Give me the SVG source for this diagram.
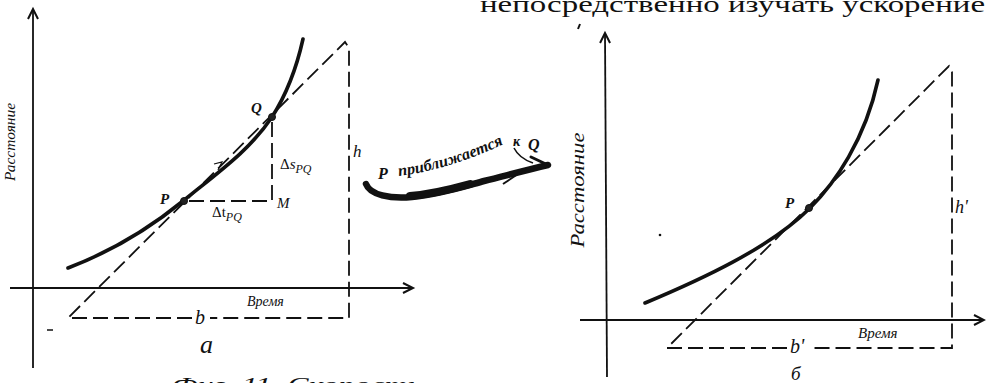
<svg xmlns="http://www.w3.org/2000/svg" width="986" height="383" viewBox="0 0 986 383">
<style>
.ax{stroke:#111;stroke-width:1.8;fill:none}
.cv{stroke:#111;stroke-width:3.6;fill:none;stroke-linecap:round}
.ds{stroke:#111;stroke-width:1.8;fill:none;stroke-dasharray:15 6}
.lb{font-family:"Liberation Serif","Times New Roman",Tinos,serif;font-style:italic;fill:#111}
.rm{font-family:"Liberation Serif","Times New Roman",Tinos,serif;fill:#111}
.pt{fill:#222;stroke:#111;stroke-width:1}
</style>
<defs>
<marker id="ah" markerUnits="userSpaceOnUse" markerWidth="14" markerHeight="12" refX="11" refY="6" orient="auto">
<path d="M1,1 L11,6 L1,11" fill="none" stroke="#111" stroke-width="2"/>
</marker>
</defs>
<rect width="986" height="383" fill="#fff"/>

<text class="rm" x="480" y="12" font-size="23" textLength="505" lengthAdjust="spacingAndGlyphs">непосредственно изучать ускорение</text>
<path d="M580,24 L578,29" stroke="#111" stroke-width="2"/>

<g id="panel-a">
<line class="ax" x1="33" y1="368" x2="33" y2="9" marker-end="url(#ah)"/>
<line class="ax" x1="10" y1="288" x2="413" y2="288" marker-end="url(#ah)"/>
<text class="lb" transform="translate(15,142) rotate(-90)" font-size="14" text-anchor="middle" textLength="78" lengthAdjust="spacingAndGlyphs">Расстояние</text>
<path class="cv" d="M68,268 C110,252 150,228 183,201 C220,171 250,150 272,117 C288,92 297,66 303,39"/>
<path class="ds" d="M192,318 L68,318 L345,42 L349,48 L349,318 L210,318"/>
<path class="ds" d="M272,122 L272,201 L187,201"/>
<path d="M214,164 L222,162 L218,170" stroke="#111" stroke-width="1.2" fill="none"/>
<line x1="47" y1="330" x2="53" y2="330" stroke="#111" stroke-width="1.5"/>
<circle class="pt" cx="184" cy="201" r="3.5"/>
<circle class="pt" cx="272" cy="117" r="3.5"/>
<text class="lb" x="160" y="204" font-size="15" font-weight="bold">P</text>
<text class="lb" x="251" y="113" font-size="15" font-weight="bold">Q</text>
<text class="lb" x="277" y="208" font-size="15">M</text>
<text class="lb" x="353" y="157" font-size="17">h</text>
<text class="rm" x="280" y="169" font-size="15">Δ<tspan class="lb">s</tspan><tspan class="lb" font-size="12" dy="4">PQ</tspan></text>
<text class="rm" x="212" y="217" font-size="15">Δt<tspan class="lb" font-size="12" dy="4">PQ</tspan></text>
<text class="lb" x="247" y="306" font-size="14">Время</text>
<text class="lb" x="195" y="324" font-size="20">b</text>
<text class="lb" x="200" y="353" font-size="26">а</text>
</g>

<g id="arrow">
<path d="M366,184 C370,195 390,199 412,197 C440,194 462,187 484,181 C508,175 527,170 548,165" stroke="#111" stroke-width="6.5" fill="none" stroke-linecap="round"/>
<path d="M410,196 C432,194 452,189 470,184" stroke="#111" stroke-width="8" fill="none" stroke-linecap="round"/>
<path d="M531,157 L548,165" stroke="#111" stroke-width="3" fill="none" stroke-linecap="round"/>
<path d="M503,184 L527,168" stroke="#111" stroke-width="2" fill="none"/>
<path d="M514,148 C518,156 524,160 533,163" stroke="#111" stroke-width="1.6" fill="none"/>
<path id="tp" d="M399,176 C432,172 472,160 510,141" fill="none"/>
<text class="lb" x="378" y="179" font-size="16" font-weight="bold">P</text>
<text class="lb" font-size="16" font-weight="bold"><textPath href="#tp" textLength="110" lengthAdjust="spacingAndGlyphs">приближается</textPath></text>
<text class="lb" x="513" y="146" font-size="14" font-weight="bold">к</text>
<text class="lb" x="528" y="150" font-size="16" font-weight="bold">Q</text>
</g>

<g id="panel-b">
<line class="ax" x1="607" y1="377" x2="605" y2="33" marker-end="url(#ah)"/>
<line class="ax" x1="580" y1="320" x2="984" y2="320" marker-end="url(#ah)"/>
<text class="lb" transform="translate(584,190) rotate(-90)" font-size="18" text-anchor="middle" textLength="115" lengthAdjust="spacingAndGlyphs">Расстояние</text>
<path class="cv" d="M645,303 C700,280 770,248 810,208 C835,183 865,140 878,80"/>
<path class="ds" d="M787,348 L667,348 L949,66 L952,72 L952,348 L810,348"/>
<circle class="pt" cx="809" cy="208" r="3.5"/>
<circle cx="660" cy="235" r="1.3" fill="#111"/>
<text class="lb" x="785" y="208" font-size="15" font-weight="bold">P</text>
<text class="lb" x="955" y="213" font-size="18">h'</text>
<text class="lb" x="858" y="338" font-size="15">Время</text>
<text class="lb" x="790" y="353" font-size="20">b'</text>
<text class="lb" x="791" y="380" font-size="19">б</text>
</g>

<text class="lb" x="172" y="392" font-size="21" textLength="250" lengthAdjust="spacingAndGlyphs">Фиг. 11. Скорость</text>
</svg>
